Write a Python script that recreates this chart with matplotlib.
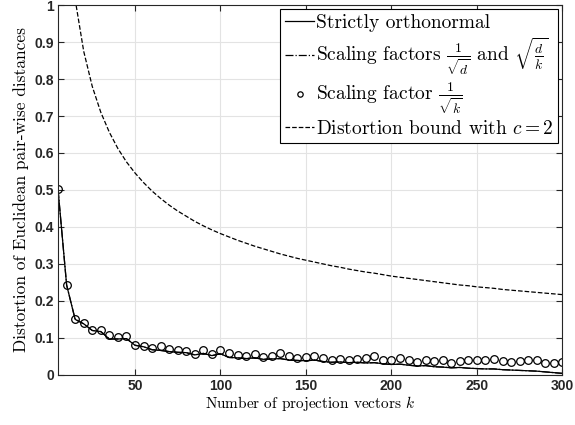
import matplotlib
matplotlib.use('Agg')
import matplotlib.pyplot as plt

k = list(range(5, 301, 5))

strictly_orthonormal = [
    0.500, 0.243, 0.150, 0.138, 0.120, 0.117, 0.097, 0.097, 0.098, 0.080,
    0.076, 0.068, 0.066, 0.063, 0.061, 0.060, 0.054, 0.058, 0.052, 0.057,
    0.047, 0.046, 0.044, 0.046, 0.042, 0.043, 0.044, 0.040, 0.039, 0.038,
    0.040, 0.036, 0.034, 0.035, 0.033, 0.034, 0.032, 0.033, 0.030, 0.028,
    0.029, 0.026, 0.024, 0.025, 0.022, 0.021, 0.019, 0.020, 0.018, 0.017,
    0.016, 0.016, 0.014, 0.013, 0.012, 0.011, 0.010, 0.008, 0.006, 0.004,
]

# overlaps the strictly orthonormal curve
scaling_d_and_dk = list(strictly_orthonormal)

scaling_k = [
    0.502, 0.243, 0.150, 0.140, 0.122, 0.120, 0.107, 0.103, 0.105, 0.080,
    0.079, 0.072, 0.077, 0.071, 0.066, 0.065, 0.057, 0.066, 0.056, 0.068,
    0.058, 0.054, 0.051, 0.057, 0.049, 0.050, 0.058, 0.050, 0.046, 0.048,
    0.051, 0.046, 0.041, 0.042, 0.041, 0.044, 0.046, 0.050, 0.041, 0.040,
    0.046, 0.039, 0.036, 0.040, 0.037, 0.039, 0.032, 0.038, 0.039, 0.041,
    0.041, 0.044, 0.038, 0.035, 0.037, 0.040, 0.041, 0.032, 0.032, 0.035,
]

distortion_bound = [
    1.788, 1.251, 1.015, 0.875, 0.780, 0.710, 0.656, 0.612, 0.576, 0.546,
    0.520, 0.497, 0.477, 0.459, 0.443, 0.429, 0.415, 0.403, 0.392, 0.382,
    0.373, 0.364, 0.356, 0.348, 0.341, 0.334, 0.327, 0.321, 0.315, 0.310,
    0.305, 0.300, 0.295, 0.291, 0.286, 0.282, 0.278, 0.275, 0.271, 0.267,
    0.264, 0.261, 0.258, 0.255, 0.252, 0.249, 0.246, 0.243, 0.241, 0.238,
    0.236, 0.234, 0.231, 0.229, 0.227, 0.225, 0.223, 0.221, 0.219, 0.217,
]

labels = [
    'Strictly orthonormal',
    r'Scaling factors $\frac{1}{\sqrt{d}}$ and $\sqrt{\frac{d}{k}}$',
    r'Scaling factor $\frac{1}{\sqrt{k}}$',
    r'Distortion bound with $c = 2$',
]

plt.rcParams['mathtext.fontset'] = 'cm'
plt.rcParams['axes.unicode_minus'] = False

fig = plt.figure(figsize=(5.75, 4.25), dpi=100)
ax = fig.add_axes([0.101, 0.118, 0.877, 0.870])

ax.plot(k, strictly_orthonormal, '-', color='black', lw=0.9, label=labels[0])
ax.plot(k, scaling_d_and_dk, '-.', color='black', lw=0.9, label=labels[1])
ax.plot(k, scaling_k, 'o', color='black', mfc='none', ms=5.5, mew=0.9, label=labels[2])
ax.plot(k, distortion_bound, '--', color='black', lw=0.9, label=labels[3])

ax.set_xlim(5, 300)
ax.set_ylim(0, 1)
ax.set_xticks([50, 100, 150, 200, 250, 300])
ax.set_yticks([i / 10 for i in range(11)])
ax.set_yticklabels(['0', '0.1', '0.2', '0.3', '0.4', '0.5', '0.6', '0.7', '0.8', '0.9', '1'])
for lab in ax.get_xticklabels() + ax.get_yticklabels():
    lab.set_fontfamily('Liberation Sans')
    lab.set_fontweight('bold')
    lab.set_fontsize(10)
    lab.set_color('#262626')

ax.tick_params(direction='in', top=True, right=True, length=4, width=0.8,
               color='#262626', pad=3)
ax.grid(True, color='#e3e3e3', lw=0.8)
ax.set_axisbelow(True)
for s in ax.spines.values():
    s.set_color('#262626')
    s.set_linewidth(0.8)

ax.set_xlabel(r'Number of projection vectors $k$', fontfamily='cmr10', fontsize=11, labelpad=1)
ax.set_ylabel('Distortion of Euclidean pair-wise distances', fontfamily='cmr10', fontsize=12.5, labelpad=4)

leg = ax.legend(loc='upper right', prop={'family': 'cmr10', 'size': 14},
                frameon=True, fancybox=False, framealpha=1, edgecolor='black',
                handlelength=1.5, handletextpad=0.1, borderaxespad=0.2,
                borderpad=0.25, labelspacing=0.2, markerscale=0.7)
leg.get_frame().set_linewidth(0.8)

fig.savefig('out.png', dpi=100)
